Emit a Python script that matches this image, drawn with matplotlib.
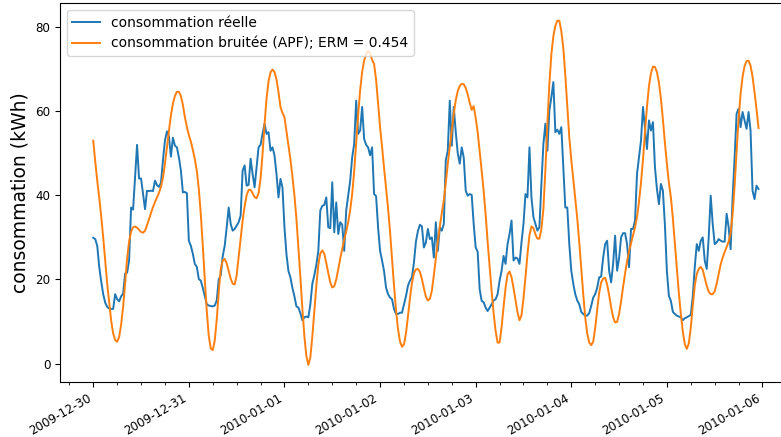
import matplotlib
matplotlib.use("Agg")
import matplotlib.pyplot as plt
import matplotlib.dates as mdates
import pandas as pd

# consommation réelle, pas de 30 min (2009-12-30 00:00 -> 2010-01-05 23:00)
reel_j0 = [29.9, 29.6, 28.0, 23.0, 19.5, 16.5, 14.5, 13.5, 13.1, 13.0,
           13.0, 16.5, 15.3, 14.8, 16.0, 16.6, 21.4, 21.6, 24.5, 37.1,
           36.6, 44.3, 52.0, 44.0, 44.0, 40.3, 36.7, 41.1, 41.0, 41.1,
           41.0, 43.5, 42.4, 42.0, 43.0, 48.3, 53.0, 55.2, 54.0, 49.2,
           53.7, 51.8, 51.4, 49.0, 45.9, 40.7, 40.8, 40.5]
reel_j1 = [29.2, 28.0, 26.1, 23.7, 23.0, 20.1, 19.7, 18.0, 16.0, 14.1,
           13.8, 13.7, 13.6, 13.8, 15.0, 20.0, 21.0, 25.5, 28.0, 32.4,
           37.1, 33.2, 31.6, 32.0, 32.8, 33.6, 35.2, 45.9, 47.1, 42.3,
           42.5, 48.7, 45.1, 41.9, 46.7, 51.4, 52.0, 54.6, 57.0, 54.6,
           55.0, 50.6, 51.4, 49.5, 45.0, 39.5, 43.9, 41.9]
reel_j2 = [32.4, 26.0, 22.0, 20.5, 18.0, 16.0, 13.6, 13.3, 12.0, 10.3,
           11.0, 11.2, 11.0, 14.1, 19.0, 21.0, 23.5, 26.8, 36.4, 37.5,
           37.7, 39.5, 32.4, 32.2, 43.1, 31.2, 38.3, 30.8, 33.6, 33.0,
           26.8, 36.4, 40.0, 43.5, 49.0, 52.2, 62.5, 54.6, 55.4, 61.0,
           53.4, 52.0, 51.4, 49.5, 51.4, 40.3, 39.8, 32.4]
reel_j3 = [26.8, 24.5, 22.0, 18.1, 16.5, 15.7, 15.3, 13.0, 11.8, 11.8,
           12.1, 12.1, 14.0, 16.0, 18.5, 19.7, 20.5, 24.0, 29.0, 31.5,
           33.0, 32.6, 27.6, 28.8, 32.0, 29.6, 30.0, 25.2, 33.6, 26.8,
           32.4, 31.6, 33.2, 48.3, 50.6, 62.5, 51.8, 61.0, 55.0, 50.0,
           47.5, 51.4, 49.0, 41.1, 39.9, 40.3, 40.1, 33.2]
reel_j4 = [27.6, 26.6, 17.7, 14.9, 14.6, 13.3, 12.5, 13.3, 14.1, 15.0,
           15.3, 16.5, 19.7, 22.0, 25.6, 23.7, 28.4, 30.8, 34.0, 24.5,
           25.2, 25.0, 23.7, 28.8, 33.2, 40.3, 39.5, 51.4, 39.5, 34.8,
           33.2, 31.6, 32.4, 42.7, 52.2, 57.0, 50.6, 60.2, 63.3, 66.9,
           55.0, 55.6, 54.6, 56.2, 46.7, 37.1, 37.1, 28.4]
reel_j5 = [22.1, 19.0, 16.5, 15.0, 14.1, 12.3, 11.8, 11.4, 11.4, 12.0,
           13.7, 15.7, 16.5, 18.0, 20.5, 20.7, 25.2, 28.4, 29.2, 22.1,
           19.3, 23.7, 30.4, 22.1, 25.0, 30.0, 31.0, 31.0, 28.4, 22.9,
           32.0, 32.0, 34.0, 45.1, 49.0, 53.0, 61.0, 56.0, 51.0, 57.8,
           55.4, 57.4, 46.7, 41.5, 37.9, 42.7, 41.1, 33.0]
reel_j6 = [22.0, 16.1, 14.9, 12.3, 11.8, 11.4, 11.2, 11.0, 10.3, 10.8,
           11.0, 11.3, 11.6, 16.0, 23.0, 28.4, 26.8, 29.2, 30.0, 24.5,
           22.5, 30.0, 39.9, 33.2, 28.4, 28.8, 29.6, 29.2, 29.0, 29.0,
           35.6, 32.4, 27.2, 39.5, 49.0, 59.4, 60.6, 56.2, 59.8, 57.8,
           55.8, 59.8, 55.4, 41.1, 39.1, 42.3, 41.5]

# consommation bruitée (APF), même pas de temps
bruit_j0 = [53.0, 48.0, 43.5, 39.5, 35.0, 30.0, 24.5, 19.0, 14.5, 10.2,
            7.2, 5.6, 5.2, 6.3, 9.3, 13.5, 19.0, 25.0, 29.0, 31.4,
            32.4, 32.6, 32.3, 31.8, 31.3, 31.1, 31.6, 32.9, 34.3, 35.8,
            37.2, 38.4, 39.5, 40.6, 42.0, 44.2, 47.5, 51.5, 55.3, 59.0,
            61.8, 63.6, 64.6, 64.6, 63.6, 61.5, 58.6, 56.3]
bruit_j1 = [54.3, 52.8, 50.8, 48.6, 45.8, 41.5, 35.5, 28.0, 20.0, 12.5,
            6.6, 3.6, 3.2, 5.5, 10.5, 17.0, 22.5, 24.5, 24.9, 23.8,
            22.0, 20.2, 19.0, 18.8, 21.0, 25.3, 29.8, 34.0, 37.4, 40.0,
            41.3, 41.3, 40.5, 39.6, 39.3, 40.5, 44.0, 49.8, 56.8, 63.0,
            67.1, 69.2, 69.9, 69.3, 67.5, 64.5, 61.0, 59.6]
bruit_j2 = [58.6, 55.2, 51.8, 48.5, 44.5, 40.0, 34.5, 27.5, 20.5, 13.0,
            6.5, 1.8, -0.3, 1.5, 6.5, 12.5, 18.5, 23.5, 26.2, 26.9,
            26.1, 23.9, 21.5, 19.3, 18.1, 18.4, 20.0, 22.4, 25.0, 27.3,
            29.5, 31.4, 33.6, 36.5, 40.3, 45.7, 52.5, 59.2, 65.0, 69.3,
            72.0, 73.6, 74.3, 73.8, 72.2, 71.2, 67.5, 62.0]
bruit_j3 = [56.2, 51.5, 46.5, 41.8, 37.0, 31.4, 25.0, 18.5, 12.8, 8.2,
            5.3, 4.0, 4.6, 7.2, 11.2, 15.5, 19.1, 21.5, 22.4, 22.5,
            21.8, 20.1, 17.9, 15.9, 15.0, 15.4, 17.3, 21.0, 25.0, 29.0,
            32.6, 35.8, 38.8, 43.0, 47.5, 51.5, 55.4, 59.4, 62.6, 64.8,
            66.0, 66.5, 66.4, 65.5, 64.0, 62.0, 60.3, 61.2]
bruit_j4 = [58.4, 55.0, 50.5, 45.9, 41.0, 35.5, 29.0, 23.0, 17.3, 12.0,
            7.8, 5.0, 5.0, 8.6, 13.5, 18.0, 21.2, 21.9, 20.5, 18.0,
            15.1, 12.2, 10.3, 11.5, 15.5, 20.5, 26.0, 30.5, 32.6, 32.2,
            30.7, 29.7, 29.7, 32.0, 36.8, 46.0, 57.0, 66.5, 73.5, 77.8,
            80.3, 81.5, 81.5, 79.0, 75.0, 68.5, 61.0, 53.8]
bruit_j5 = [48.5, 43.8, 39.2, 34.5, 28.8, 22.5, 16.5, 11.0, 7.2, 5.0,
            4.4, 5.2, 8.5, 12.8, 16.8, 19.3, 20.2, 20.4, 18.8, 16.3,
            13.4, 11.0, 9.8, 9.9, 11.8, 14.8, 18.2, 21.4, 24.3, 26.7,
            28.6, 30.5, 32.4, 34.8, 38.5, 43.0, 48.5, 55.0, 61.0, 66.0,
            69.0, 70.6, 70.5, 69.3, 66.8, 63.0, 58.0, 52.5]
bruit_j6 = [47.5, 43.0, 39.5, 34.5, 28.5, 22.5, 16.8, 11.8, 7.6, 4.6,
            3.5, 4.8, 8.6, 13.8, 18.6, 21.3, 22.5, 23.0, 22.3, 20.4,
            18.5, 17.1, 16.5, 16.5, 17.2, 19.0, 21.3, 23.6, 25.2, 26.5,
            27.7, 29.0, 31.0, 35.5, 42.3, 50.5, 58.2, 64.0, 68.2, 70.7,
            71.9, 72.0, 70.8, 68.2, 64.5, 60.5, 56.0]

erm = 0.454

conso_reelle = reel_j0 + reel_j1 + reel_j2 + reel_j3 + reel_j4 + reel_j5 + reel_j6
conso_bruitee = bruit_j0 + bruit_j1 + bruit_j2 + bruit_j3 + bruit_j4 + bruit_j5 + bruit_j6
dates = pd.date_range("2009-12-30", periods=len(conso_reelle), freq="30min")

fig = plt.figure(figsize=(7.81, 4.37), dpi=100)
# the original picture is cut on the right, so the axes go past the figure edge
ax = fig.add_axes([0.0768, 0.1265, 0.937, 0.8666])

ax.plot(dates, conso_reelle, color="#1f77b4", lw=1.4, label="consommation réelle")
ax.plot(dates, conso_bruitee, color="#ff7f0e", lw=1.4,
        label=f"consommation bruitée (APF); ERM = {erm}")

ax.set_ylim(-4.3, 85.7)
ax.set_yticks([0, 20, 40, 60, 80])
ax.xaxis.set_major_locator(mdates.DayLocator())
ax.xaxis.set_minor_locator(mdates.HourLocator(byhour=[0, 6, 12, 18]))
ax.xaxis.set_major_formatter(mdates.DateFormatter("%Y-%m-%d"))
ax.tick_params(axis="both", which="major", labelsize=8.6, length=3.5)
ax.tick_params(axis="x", which="minor", length=2)
for lab in ax.get_xticklabels():
    lab.set_rotation(30)
    lab.set_ha("right")

ax.set_ylabel("consommation (kWh)", fontsize=13.5)
ax.legend(loc="upper left", fontsize=10)

fig.savefig("out.png", dpi=100)
